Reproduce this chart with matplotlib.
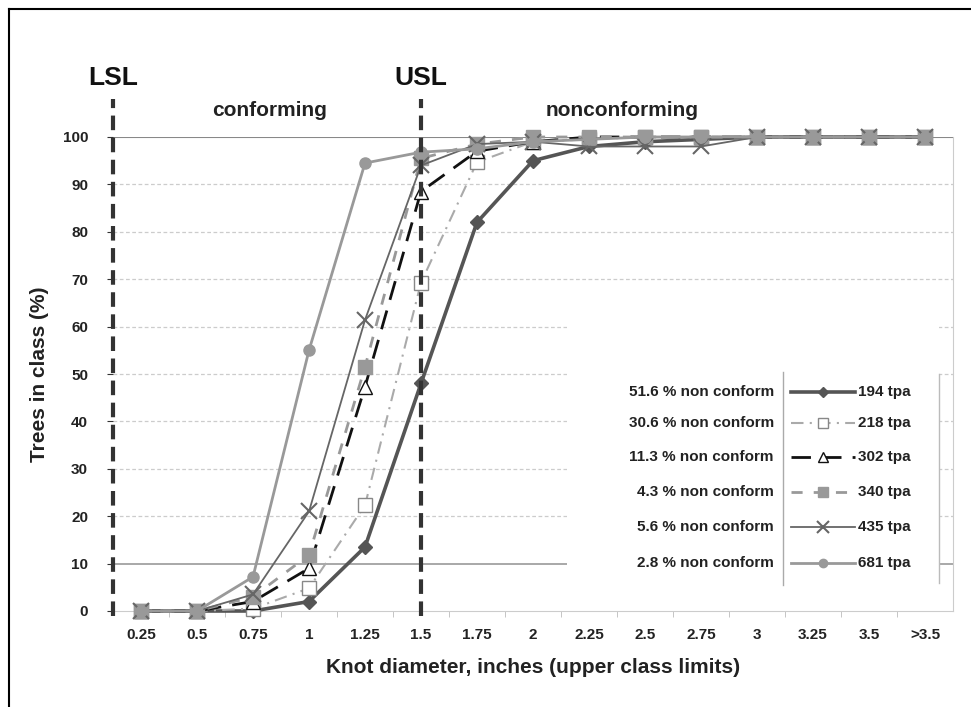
import matplotlib
matplotlib.use("Agg")
import matplotlib.pyplot as plt
from matplotlib.lines import Line2D

plt.rcParams['font.family'] = ['Liberation Sans Narrow', 'Liberation Sans', 'DejaVu Sans']
plt.rcParams['font.weight'] = 'bold'
plt.rcParams['axes.labelweight'] = 'bold'

classes = ["0.25", "0.5", "0.75", "1", "1.25", "1.5", "1.75", "2", "2.25",
           "2.5", "2.75", "3", "3.25", "3.5", ">3.5"]

tpa194 = [0, 0, 0, 2, 13.5, 48, 82, 95, 98, 99, 99.5, 100, 100, 100, 100]
tpa218 = [0, 0, 0.5, 4.8, 22.3, 69.3, 94.7, 99, 99.5, 100, 100, 100, 100, 100, 100]
tpa302 = [0, 0, 2, 9, 47.3, 88.5, 97, 99, 100, 100, 100, 100, 100, 100, 100]
tpa340 = [0, 0, 3, 11.8, 51.5, 95.5, 98.5, 100, 100, 100, 100, 100, 100, 100, 100]
tpa435 = [0, 0, 3.5, 21, 61.4, 94, 98.5, 99, 98, 98, 98, 100, 100, 100, 100]
tpa681 = [0, 0, 7.2, 55, 94.5, 96.8, 97.5, 99, 99.5, 100, 100, 100, 100, 100, 100]

labels_tpa = ["194 tpa", "218 tpa", "302 tpa", "340 tpa", "435 tpa", "681 tpa"]
labels_nc = ["51.6 % non conform", "30.6 % non conform", "11.3 % non conform",
             "4.3 % non conform", "5.6 % non conform", "2.8 % non conform"]

styles = [
    dict(color="#555555", ls="-", lw=2.6, marker="D", ms=7, mfc="#555555", mec="#555555"),
    dict(color="#aaaaaa", ls=(0, (6, 3, 1, 3)), lw=1.5, marker="s", ms=10, mfc="white", mec="#888888"),
    dict(color="#111111", ls=(0, (7, 4)), lw=2.0, marker="^", ms=10, mfc="white", mec="#111111"),
    dict(color="#999999", ls=(0, (4, 4)), lw=2.0, marker="s", ms=10, mfc="#999999", mec="#999999"),
    dict(color="#666666", ls="-", lw=1.3, marker="x", ms=11, mew=1.5, mec="#666666"),
    dict(color="#999999", ls="-", lw=2.0, marker="o", ms=8, mfc="#999999", mec="#999999"),
]
series = [tpa194, tpa218, tpa302, tpa340, tpa435, tpa681]

fig = plt.figure(figsize=(9.71, 7.07), dpi=100)
ax = fig.add_axes([113 / 971, 96 / 707, 840 / 971, 474 / 707])

x = list(range(len(classes)))
for vals, st in zip(series, styles):
    ax.plot(x, vals, clip_on=False, zorder=3, **st)

ax.set_xlim(-0.5, len(classes) - 0.5)
ax.set_ylim(0, 100)
ax.set_xticks(x)
ax.set_xticklabels(classes)
ax.set_xticks([i + 0.5 for i in x[:-1]], minor=True)
ax.tick_params(axis="x", which="major", length=0, pad=12, labelsize=11, colors="#222222")
ax.tick_params(axis="x", which="minor", length=4, color="#bbbbbb")
ax.set_yticks(range(0, 101, 10))
ax.tick_params(axis="y", length=4, color="#333333", pad=14, labelsize=11, labelcolor="#222222")

# grid
for v in range(20, 100, 10):
    ax.axhline(v, color="#cccccc", lw=0.9, ls=(0, (3, 2)), zorder=0)
ax.axhline(10, color="#999999", lw=1.2, zorder=0)
ax.axhline(100, color="#888888", lw=1.5, zorder=1)

for s in ["top", "left"]:
    ax.spines[s].set_visible(False)
ax.spines["right"].set_color("#cccccc")
ax.spines["bottom"].set_color("#cccccc")
ax.spines["bottom"].set_linestyle((0, (2, 1)))

# spec limits
for xv, name in [(-0.5, "LSL"), (5, "USL")]:
    ax.plot([xv, xv], [-1, 108], color="#333333", lw=3, ls=(0, (3.5, 1.8)),
            clip_on=False, zorder=4)
    ax.text(xv, 110, name, ha="center", va="bottom", fontsize=19, color="#111111")
ax.text(2.3, 103.5, "conforming", ha="center", va="bottom", fontsize=15, color="#222222")
ax.text(8.6, 103.5, "nonconforming", ha="center", va="bottom", fontsize=15, color="#222222")

ax.set_ylabel("Trees in class (%)", fontsize=15, labelpad=10, color="#222222")
ax.set_xlabel("Knot diameter, inches (upper class limits)", fontsize=15, labelpad=12,
              color="#222222")

# legend table
ax.add_patch(plt.Rectangle((7.6, 4.3), 6.65, 57, facecolor="white", edgecolor="none", zorder=2))
ax.plot([11.46, 11.46], [5.5, 50.5], color="#aaaaaa", lw=1, zorder=2)
ax.plot([14.25, 14.25], [6, 50], color="#bbbbbb", lw=1, zorder=2)
row_y = [46.2, 39.6, 32.5, 25.1, 17.7, 10.1]
for ry, nc, tp, st in zip(row_y, labels_nc, labels_tpa, styles):
    ax.text(11.3, ry, nc, ha="right", va="center", fontsize=11, color="#222222", zorder=5)
    ax.text(12.8, ry, tp, ha="left", va="center", fontsize=11, color="#222222", zorder=5)
    st2 = dict(st)
    st2["ms"] = st["ms"] * 0.75
    h = Line2D([11.6, 12.17, 12.75], [ry, ry, ry], markevery=[1], zorder=5, **st2)
    ax.add_line(h)

# outer frame
fig.add_artist(Line2D([9 / 971, 9 / 971], [0, 698 / 707], color="black", lw=1.5))
fig.add_artist(Line2D([9 / 971, 1], [698 / 707, 698 / 707], color="black", lw=1.5))

fig.savefig("out.png", dpi=100)
